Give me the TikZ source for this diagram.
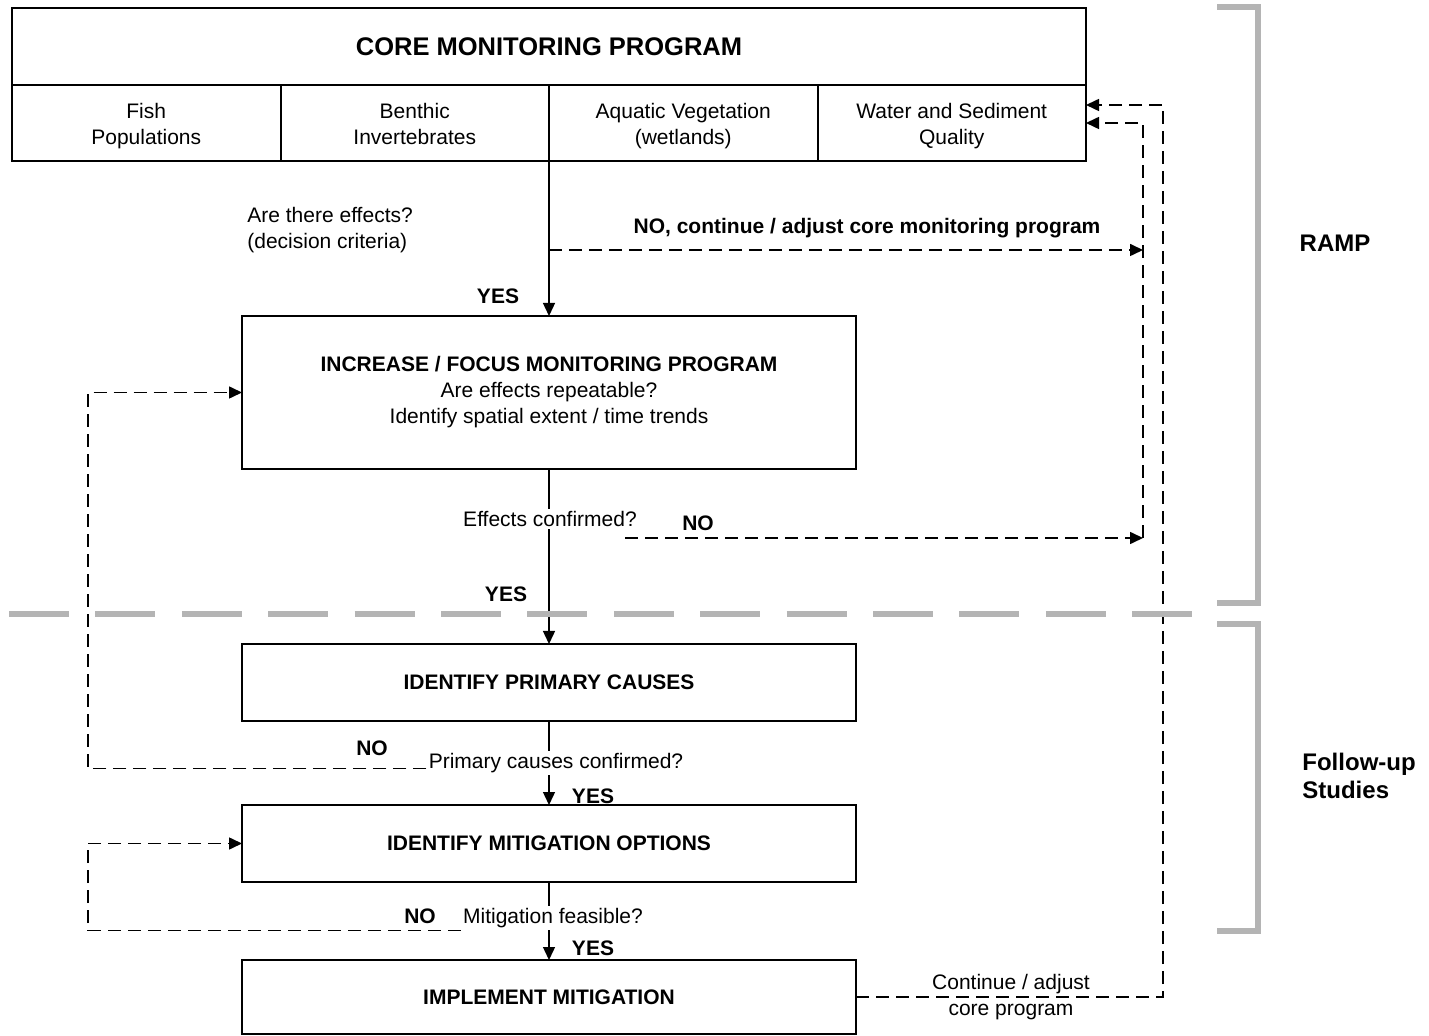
\documentclass[tikz,border=0pt]{standalone}
\usepackage{fontspec}
\setmainfont{Liberation Sans}
\usepackage{tikz}
\usetikzlibrary{arrows.meta,positioning}
\definecolor{rampgray}{RGB}{180,180,180}

\begin{document}
\begin{tikzpicture}[
  x=0.5pt, y=-0.5pt,
  font=\fontsize{10.5}{13}\selectfont,
  box/.style={draw, line width=1pt, outer sep=0pt, minimum width=307pt, minimum height=38.5pt, inner sep=0pt, align=center},
  cell/.style={draw, line width=1pt, outer sep=0pt, minimum width=134.25pt, minimum height=38pt, inner sep=0pt, align=center,
    text height=23.5pt, text depth=2pt},
  lbl/.style={inner sep=1pt, align=center},
  yesno/.style={inner sep=1pt, font=\fontsize{10.5}{13}\selectfont\bfseries},
  side/.style={inner sep=1pt, font=\fontsize{12}{14}\selectfont\bfseries},
  flow/.style={line width=0.7pt, -{Triangle[length=6.5pt,width=6pt]}},
  noflow/.style={flow, line width=0.8pt, dash pattern=on 6.5pt off 3.5pt},
  bracket/.style={rampgray, line width=2.6pt}]

\useasboundingbox (0,0) rectangle (1429,1036);

% core program table
\node[box, minimum width=537pt, font=\fontsize{12.75}{15}\selectfont\bfseries] (core) at (549,46.5) {CORE MONITORING PROGRAM};
\node[cell, below right=0pt and 0pt of core.south west] (fish) {Fish\\Populations};
\node[cell, right=0pt of fish] (benth) {Benthic\\Invertebrates};
\node[cell, right=0pt of benth] (aqveg) {Aquatic Vegetation\\(wetlands)};
\node[cell, right=0pt of aqveg] (wsq) {Water and Sediment\\Quality};

% main boxes
\node[box, minimum height=76.5pt] (incr) at (549,392.5) {\textbf{INCREASE / FOCUS MONITORING PROGRAM}\\Are effects repeatable?\\Identify spatial extent / time trends};
\node[box, font=\fontsize{10.5}{13}\selectfont\bfseries] (cause) at (549,682.5) {IDENTIFY PRIMARY CAUSES};
\node[box, font=\fontsize{10.5}{13}\selectfont\bfseries] (mitig) at (549,843.5) {IDENTIFY MITIGATION OPTIONS};
\node[box, minimum height=37pt, font=\fontsize{10.5}{13}\selectfont\bfseries] (impl) at (549,997) {IMPLEMENT MITIGATION};

% questions and answers
\node[lbl, align=left, anchor=west] (effq) at (245,230) {Are there effects?\\(decision criteria)};
\node[yesno] (yes1) at (498,296) {YES};
\node[yesno] (nocont) at (867,228) {NO, continue / adjust core monitoring program};
\node[lbl] (effc) at (550,519) {Effects confirmed?};
\node[yesno] (no2) at (698,523) {NO};
\node[yesno] (yes2) at (506,594) {YES};
\node[lbl] (pcc) at (556,763) {Primary causes confirmed?};
\node[yesno] (no3) at (372,748) {NO};
\node[yesno] (yes3) at (593,796) {YES};
\node[lbl] (mfeas) at (553,918) {Mitigation feasible?};
\node[yesno] (no4) at (420,916) {NO};
\node[yesno] (yes4) at (593,948) {YES};
\node[lbl] (cont) at (1011,997.5) {Continue / adjust\\core program};

% side labels
\node[side] (ramp) at (1335,243) {RAMP};
\node[side, align=left, anchor=west] (follow) at (1300,776) {Follow-up\\Studies};

\coordinate (q1) at (549,250);
\coordinate (e1) at (625,538);
\coordinate (r1) at (1163,105);
\coordinate (r2) at (1143,123);
\coordinate (lft) at (88,0);

% solid flow
\draw[flow] (aqveg.south west) -- (incr.north);
\draw[line width=0.7pt] (incr.south) -- (incr.south |- effc.north);
\draw[flow] (incr.south |- effc.south) -- (cause.north);
\draw[line width=0.7pt] (cause.south) -- (cause.south |- pcc.north);
\draw[flow] (cause.south |- pcc.south) -- (mitig.north);
\draw[line width=0.7pt] (mitig.south) -- (mitig.south |- mfeas.north);
\draw[flow] (mitig.south |- mfeas.south) -- (impl.north);

% dashed loops
\draw[noflow] (q1) -- (q1 -| r2);
\draw[noflow] (e1) -- (e1 -| r2);
\draw[noflow] (e1 -| r2) -- (r2) -- (r2 -| wsq.east);
\draw[noflow] (impl.east) -| (r1) -- (r1 -| wsq.east);
\draw[noflow] (pcc.base west) -| (incr.west -| lft) -- (incr.west);
\draw[noflow] ([yshift=-3.5pt]mfeas.base west) -| (mitig.west -| lft) -- (mitig.west);

% ramp / follow-up split
\draw[rampgray, line width=2.8pt, dash pattern=on 30pt off 13.2pt] (9,614) -- (1193,614);
\draw[bracket] (1217,7) -- (1258,7) -- (1258,603) -- (1217,603);
\draw[bracket] (1217,624) -- (1258,624) -- (1258,931) -- (1217,931);
\end{tikzpicture}
\end{document}
